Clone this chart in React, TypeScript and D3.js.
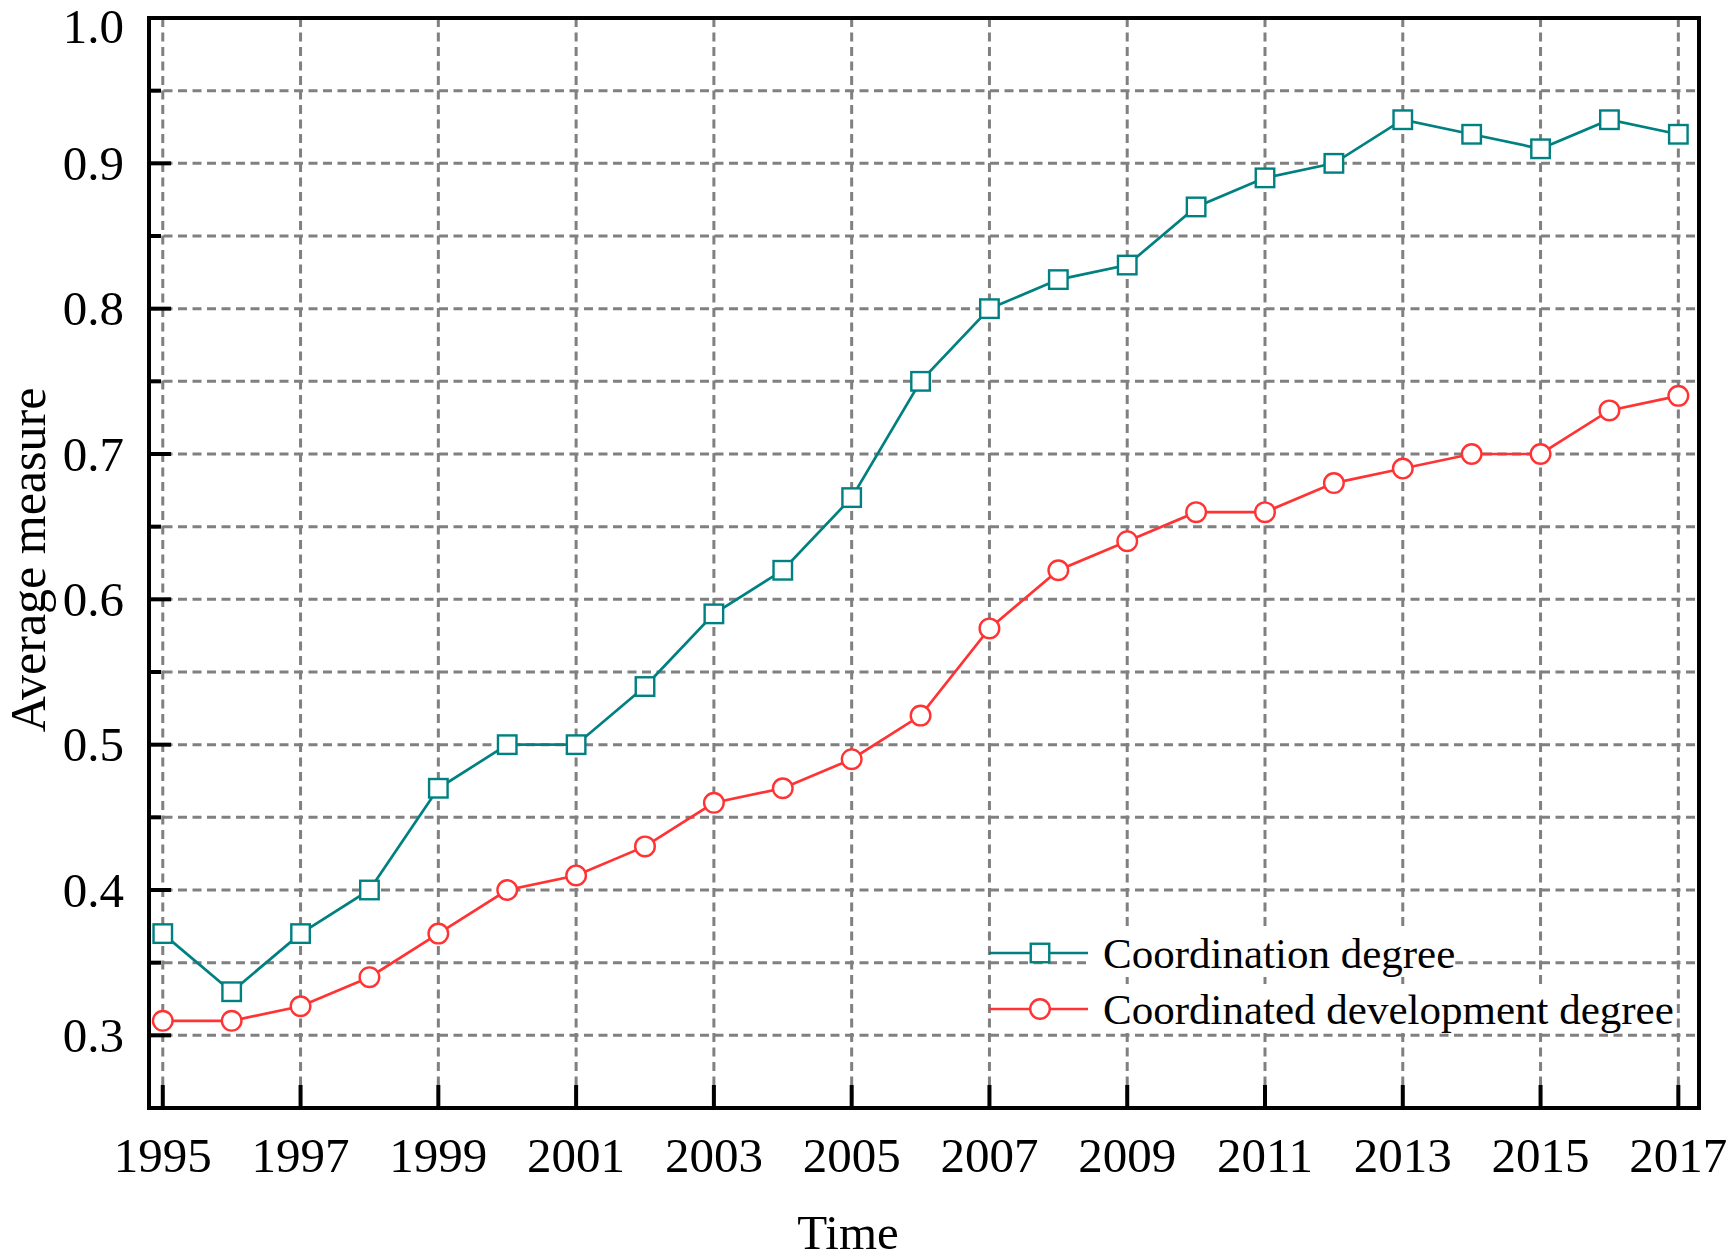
import { useRef, useEffect } from 'react';
import * as d3 from 'd3';

const YEARS = [
  1995, 1996, 1997, 1998, 1999, 2000, 2001, 2002, 2003, 2004, 2005, 2006,
  2007, 2008, 2009, 2010, 2011, 2012, 2013, 2014, 2015, 2016, 2017,
];
const COORDINATION = [
  0.37, 0.33, 0.37, 0.40, 0.47, 0.50, 0.50, 0.54, 0.59, 0.62, 0.67, 0.75,
  0.80, 0.82, 0.83, 0.87, 0.89, 0.90, 0.93, 0.92, 0.91, 0.93, 0.92,
];
const COORDINATED_DEV = [
  0.31, 0.31, 0.32, 0.34, 0.37, 0.40, 0.41, 0.43, 0.46, 0.47, 0.49, 0.52,
  0.58, 0.62, 0.64, 0.66, 0.66, 0.68, 0.69, 0.70, 0.70, 0.73, 0.74,
];
const SERIES_NAMES = ['Coordination degree', 'Coordinated development degree'];

const X_TICKS = [1995, 1997, 1999, 2001, 2003, 2005, 2007, 2009, 2011, 2013, 2015, 2017];
const Y_TICKS = [0.3, 0.4, 0.5, 0.6, 0.7, 0.8, 0.9, 1.0];
const Y_MINOR = [0.35, 0.45, 0.55, 0.65, 0.75, 0.85, 0.95];
const Y_GRID = [0.3, 0.35, 0.4, 0.45, 0.5, 0.55, 0.6, 0.65, 0.7, 0.75, 0.8, 0.85, 0.9, 0.95];

const WIDTH = 1729;
const HEIGHT = 1260;
const PLOT = { left: 149, right: 1699, top: 18, bottom: 1108 };
const FONT = '"Liberation Serif", "Times New Roman", serif';
const TEAL = '#008080';
const RED = '#ff3333';
const GRID = '#808080';

export default function App() {
  const svgRef = useRef<SVGSVGElement>(null);

  useEffect(() => {
    if (!svgRef.current) return;
    const svg = d3.select(svgRef.current);
    svg.selectAll('*').remove();

    const x = d3.scaleLinear().domain([1994.8, 2017.3]).range([PLOT.left, PLOT.right]);
    const y = d3.scaleLinear().domain([0.25, 1.0]).range([PLOT.bottom, PLOT.top]);

    svg.append('rect').attr('width', WIDTH).attr('height', HEIGHT).attr('fill', '#fff');

    // grid
    const grid = svg.append('g')
      .attr('stroke', GRID)
      .attr('stroke-width', 3)
      .attr('stroke-dasharray', '9,5.5');
    grid.selectAll('line.v')
      .data(X_TICKS)
      .join('line')
      .attr('class', 'v')
      .attr('x1', (d) => x(d)).attr('x2', (d) => x(d))
      .attr('y1', PLOT.top).attr('y2', PLOT.bottom);
    grid.selectAll('line.h')
      .data(Y_GRID)
      .join('line')
      .attr('class', 'h')
      .attr('x1', PLOT.left).attr('x2', PLOT.right)
      .attr('y1', (d) => y(d)).attr('y2', (d) => y(d));

    // legend
    const legendRows = [
      { name: SERIES_NAMES[0], color: TEAL, shape: 'square', y: 953 },
      { name: SERIES_NAMES[1], color: RED, shape: 'circle', y: 1009 },
    ];
    const legend = svg.append('g');
    legendRows.forEach((row) => {
      const g = legend.append('g');
      const bg = g.append('rect').attr('fill', '#fff');
      const text = g.append('text')
        .attr('x', 1103)
        .attr('y', row.y + 15)
        .attr('font-family', FONT)
        .attr('font-size', '43px')
        .attr('fill', '#000')
        .text(row.name);
      const bb = (text.node() as SVGTextElement).getBBox();
      bg.attr('x', bb.x - 12).attr('y', bb.y).attr('width', bb.width + 12).attr('height', bb.height);

      g.append('line')
        .attr('x1', 989).attr('x2', 1088)
        .attr('y1', row.y).attr('y2', row.y)
        .attr('stroke', row.color)
        .attr('stroke-width', 2.7);
      if (row.shape === 'square') {
        g.append('rect')
          .attr('x', 1040 - 9.25).attr('y', row.y - 9.25)
          .attr('width', 18.5).attr('height', 18.5)
          .attr('fill', '#fff').attr('stroke', row.color).attr('stroke-width', 2.4);
      } else {
        g.append('circle')
          .attr('cx', 1040).attr('cy', row.y).attr('r', 9.8)
          .attr('fill', '#fff').attr('stroke', row.color).attr('stroke-width', 2.4);
      }
    });

    // series
    const line = d3.line<number>()
      .x((_, i) => x(YEARS[i]))
      .y((d) => y(d));

    svg.append('path')
      .datum(COORDINATION)
      .attr('d', line)
      .attr('fill', 'none')
      .attr('stroke', TEAL)
      .attr('stroke-width', 2.7);
    svg.append('path')
      .datum(COORDINATED_DEV)
      .attr('d', line)
      .attr('fill', 'none')
      .attr('stroke', RED)
      .attr('stroke-width', 2.7);

    svg.append('g')
      .selectAll('rect')
      .data(COORDINATION)
      .join('rect')
      .attr('x', (_, i) => x(YEARS[i]) - 9.25)
      .attr('y', (d) => y(d) - 9.25)
      .attr('width', 18.5)
      .attr('height', 18.5)
      .attr('fill', '#fff')
      .attr('stroke', TEAL)
      .attr('stroke-width', 2.4);
    svg.append('g')
      .selectAll('circle')
      .data(COORDINATED_DEV)
      .join('circle')
      .attr('cx', (_, i) => x(YEARS[i]))
      .attr('cy', (d) => y(d))
      .attr('r', 9.8)
      .attr('fill', '#fff')
      .attr('stroke', RED)
      .attr('stroke-width', 2.4);

    // frame
    svg.append('rect')
      .attr('x', PLOT.left).attr('y', PLOT.top)
      .attr('width', PLOT.right - PLOT.left)
      .attr('height', PLOT.bottom - PLOT.top)
      .attr('fill', 'none')
      .attr('stroke', '#000')
      .attr('stroke-width', 4);

    // ticks (inward)
    const ticks = svg.append('g').attr('stroke', '#000').attr('stroke-width', 4);
    ticks.selectAll('line.xt')
      .data(X_TICKS)
      .join('line')
      .attr('class', 'xt')
      .attr('x1', (d) => x(d)).attr('x2', (d) => x(d))
      .attr('y1', PLOT.bottom).attr('y2', PLOT.bottom - 23);
    ticks.selectAll('line.yt')
      .data(Y_TICKS.filter((d) => d < 1))
      .join('line')
      .attr('class', 'yt')
      .attr('x1', PLOT.left).attr('x2', PLOT.left + 22)
      .attr('y1', (d) => y(d)).attr('y2', (d) => y(d));
    ticks.selectAll('line.ym')
      .data(Y_MINOR)
      .join('line')
      .attr('class', 'ym')
      .attr('x1', PLOT.left).attr('x2', PLOT.left + 12)
      .attr('y1', (d) => y(d)).attr('y2', (d) => y(d));

    // tick labels
    svg.append('g')
      .selectAll('text')
      .data(X_TICKS)
      .join('text')
      .attr('x', (d) => x(d))
      .attr('y', 1172)
      .attr('text-anchor', 'middle')
      .attr('font-family', FONT)
      .attr('font-size', '49px')
      .attr('fill', '#000')
      .text((d) => String(d));
    svg.append('g')
      .selectAll('text')
      .data(Y_TICKS)
      .join('text')
      .attr('x', 124)
      .attr('y', (d) => y(d))
      .attr('dy', (d) => (d === 1 ? '0.5em' : '0.34em'))
      .attr('text-anchor', 'end')
      .attr('font-family', FONT)
      .attr('font-size', '49px')
      .attr('fill', '#000')
      .text((d) => d3.format('.1f')(d));

    // axis titles
    svg.append('text')
      .attr('x', 848)
      .attr('y', 1249)
      .attr('text-anchor', 'middle')
      .attr('font-family', FONT)
      .attr('font-size', '49px')
      .attr('fill', '#000')
      .text('Time');
    svg.append('text')
      .attr('transform', 'translate(45,560) rotate(-90)')
      .attr('text-anchor', 'middle')
      .attr('font-family', FONT)
      .attr('font-size', '50px')
      .attr('fill', '#000')
      .text('Average measure');
  }, []);

  return (
    <div style={{ position: 'absolute', left: 0, top: 0 }}>
      <svg ref={svgRef} width={WIDTH} height={HEIGHT} style={{ display: 'block' }} />
    </div>
  );
}
